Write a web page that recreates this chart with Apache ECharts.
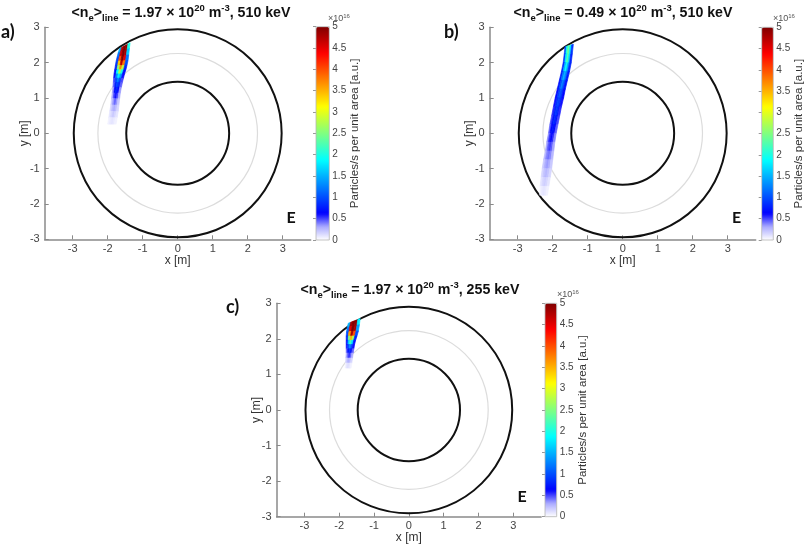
<!DOCTYPE html>
<html>
<head>
<meta charset="utf-8">
<script src="https://cdn.jsdelivr.net/npm/echarts@6/dist/echarts.min.js"></script>
<style>html,body{margin:0;padding:0;background:#fff;}#c{width:809px;height:546px;}</style>
</head>
<body>
<div id="c"></div>
<script>
// ---------- data ----------
const axisTicks = [-3, -2, -1, 0, 1, 2, 3];
const cbTicks = [0, 0.5, 1, 1.5, 2, 2.5, 3, 3.5, 4, 4.5, 5];
const circleRadii = [2.97, 2.28, 1.47];
const circleKinds = ['wall', 'mid', 'core'];

// plume row boundaries [xLeft, yLeft, xRight, yRight] (m)
const boundsA = [
  [-1.66, 2.40, -1.36, 2.56], [-1.70, 2.28, -1.38, 2.40], [-1.73, 2.16, -1.40, 2.22],
  [-1.76, 2.04, -1.42, 2.06], [-1.78, 1.92, -1.45, 1.92], [-1.80, 1.80, -1.48, 1.80],
  [-1.82, 1.68, -1.52, 1.68], [-1.83, 1.56, -1.55, 1.56], [-1.84, 1.44, -1.58, 1.44],
  [-1.85, 1.30, -1.61, 1.30], [-1.87, 1.14, -1.64, 1.14], [-1.89, 0.98, -1.66, 0.98],
  [-1.91, 0.80, -1.68, 0.80], [-1.94, 0.62, -1.70, 0.62], [-1.97, 0.44, -1.73, 0.44],
  [-2.00, 0.26, -1.76, 0.26]
];
// deposition (x1e16), 5 cells across each row
const valuesA = [
  [1.5, 4.7, 5.0, 4.9, 2.0], [1.2, 4.6, 5.0, 4.8, 1.6], [1.0, 4.0, 5.0, 4.5, 1.2],
  [0.9, 3.4, 4.7, 3.8, 1.0], [0.8, 2.6, 3.7, 2.8, 0.8], [0.7, 1.9, 2.7, 2.0, 0.7],
  [0.6, 1.3, 1.8, 1.4, 0.6], [0.5, 0.95, 1.25, 0.95, 0.5], [0.45, 0.8, 0.95, 0.8, 0.45],
  [0.35, 0.65, 0.8, 0.65, 0.35], [0.3, 0.5, 0.6, 0.5, 0.3], [0.2, 0.35, 0.45, 0.35, 0.2],
  [0.15, 0.25, 0.3, 0.25, 0.15], [0.1, 0.15, 0.2, 0.15, 0.1], [0.05, 0.08, 0.1, 0.08, 0.05]
];

const boundsB = [
  [-1.65, 2.45, -1.41, 2.52], [-1.67, 2.25, -1.44, 2.25], [-1.70, 2.00, -1.47, 2.00],
  [-1.75, 1.75, -1.52, 1.75], [-1.81, 1.50, -1.58, 1.50], [-1.87, 1.25, -1.64, 1.25],
  [-1.93, 1.00, -1.69, 1.00], [-1.98, 0.75, -1.75, 0.75], [-2.03, 0.50, -1.80, 0.50],
  [-2.08, 0.25, -1.85, 0.25], [-2.12, 0.00, -1.90, 0.00], [-2.17, -0.25, -1.94, -0.25],
  [-2.21, -0.50, -1.97, -0.50], [-2.26, -0.75, -2.00, -0.75], [-2.30, -1.00, -2.03, -1.00],
  [-2.33, -1.25, -2.07, -1.25], [-2.36, -1.50, -2.11, -1.50], [-2.37, -1.75, -2.15, -1.75]
];
const valuesB = [
  [1.0, 2.0, 2.4, 1.8, 0.9], [0.9, 1.8, 2.3, 1.7, 0.8], [0.8, 1.5, 1.9, 1.4, 0.8],
  [0.75, 1.2, 1.5, 1.2, 0.75], [0.7, 1.0, 1.25, 1.0, 0.7], [0.65, 0.9, 1.05, 0.9, 0.65],
  [0.6, 0.85, 0.95, 0.85, 0.6], [0.55, 0.8, 0.9, 0.8, 0.55], [0.5, 0.72, 0.82, 0.72, 0.5],
  [0.45, 0.65, 0.72, 0.65, 0.45], [0.38, 0.55, 0.62, 0.55, 0.38], [0.32, 0.46, 0.52, 0.46, 0.32],
  [0.26, 0.38, 0.42, 0.38, 0.26], [0.2, 0.3, 0.34, 0.3, 0.2], [0.15, 0.22, 0.26, 0.22, 0.15],
  [0.1, 0.15, 0.18, 0.15, 0.1], [0.05, 0.08, 0.1, 0.08, 0.05]
];

const boundsC = [
  [-1.74, 2.44, -1.40, 2.57], [-1.77, 2.32, -1.42, 2.40], [-1.79, 2.20, -1.45, 2.22],
  [-1.80, 2.08, -1.49, 2.08], [-1.80, 1.96, -1.53, 1.96], [-1.80, 1.84, -1.56, 1.84],
  [-1.80, 1.72, -1.58, 1.72], [-1.80, 1.60, -1.60, 1.60], [-1.81, 1.46, -1.62, 1.46],
  [-1.82, 1.32, -1.64, 1.32], [-1.83, 1.18, -1.66, 1.18]
];
const valuesC = [
  [1.5, 4.8, 5.0, 4.9, 1.8], [1.2, 4.5, 5.0, 4.8, 1.4], [1.0, 3.6, 4.8, 4.0, 1.0],
  [0.8, 2.5, 3.5, 2.7, 0.8], [0.7, 1.6, 2.2, 1.7, 0.7], [0.6, 1.0, 1.3, 1.0, 0.6],
  [0.45, 0.7, 0.85, 0.7, 0.45], [0.3, 0.45, 0.55, 0.45, 0.3], [0.15, 0.25, 0.3, 0.25, 0.15],
  [0.05, 0.1, 0.12, 0.1, 0.05]
];

const titlesNe = ['1.97', '0.49', '1.97'];
const titlesE = ['510', '510', '255'];
const panelLetters = ['a)', 'b)', 'c)'];

// ---------- styles / layout ----------
const FONT = 'Liberation Sans';
const jetColors = ['#ffffff', '#aaaaff', '#0000ff', '#0040ff', '#0080ff', '#00bfff', '#00ffff',
  '#40ffbf', '#80ff80', '#bfff40', '#ffff00', '#ffbf00', '#ff8000', '#ff4000', '#ff0000',
  '#bf0000', '#800000'];
const plotGrids = [
  { left: 44.7, top: 27.3, width: 266, height: 212 },
  { left: 489.7, top: 27.3, width: 266, height: 212 },
  { left: 276.6, top: 303.3, width: 264.5, height: 213.4 }
];
const cbGrids = [
  { left: 316, top: 26.7, width: 13.3, height: 213.3 },
  { left: 761.7, top: 27.3, width: 11.6, height: 212.7 },
  { left: 545, top: 303.3, width: 11.7, height: 213.4 }
];
const titlePos = [[181, 13], [623, 13], [410, 290]];
const letterPos = [[1, 32], [444, 32], [226, 307]];
const ePos = [[291, 218], [736.5, 218], [522, 496.5]];
const x16Pos = [[328, 19], [773, 19], [557, 295]];

const plumeBounds = [boundsA, boundsB, boundsC];
const plumeValues = [valuesA, valuesB, valuesC];

function lerpB(b, f) { return [b[0] + (b[2] - b[0]) * f, b[1] + (b[3] - b[1]) * f]; }

function plumeData(bounds, vals) {
  const out = [];
  for (let r = 0; r < vals.length; r++) {
    const n = vals[r].length;
    for (let c = 0; c < n; c++) {
      const p1 = lerpB(bounds[r], (c + 0.5) / n), p2 = lerpB(bounds[r + 1], (c + 0.5) / n);
      out.push([(p1[0] + p2[0]) / 2, (p1[1] + p2[1]) / 2, vals[r][c], r, c]);
    }
  }
  return out;
}

function makePlumeRender(bounds, ncol) {
  return function (params, api) {
    const r = api.value(3), c = api.value(4);
    const t = bounds[r], b = bounds[r + 1];
    const f0 = c / ncol, f1 = (c + 1) / ncol;
    const pts = [lerpB(t, f0), lerpB(t, f1), lerpB(b, f1), lerpB(b, f0)].map(p => api.coord(p));
    const col = api.visual('color');
    return { type: 'polygon', shape: { points: pts }, style: { fill: col, stroke: col, lineWidth: 0.7 } };
  };
}

function circleRender(params, api) {
  const c = api.coord([api.value(0), api.value(1)]);
  const r = api.size([api.value(2), 0])[0];
  const kind = circleKinds[params.dataIndex];
  const isMid = kind === 'mid';
  return { type: 'circle', shape: { cx: c[0], cy: c[1], r: r },
    style: { fill: 'none', stroke: isMid ? '#dcdcdc' : '#111', lineWidth: isMid ? 1.2 : 2 } };
}

const grids = [], xAxes = [], yAxes = [], series = [], visualMaps = [], graphics = [];

for (let i = 0; i < 3; i++) {
  grids.push(Object.assign({ containLabel: false }, plotGrids[i]));
  xAxes.push({
    type: 'value', gridIndex: i, min: -3.8, max: 3.8,
    axisLine: { onZero: false, lineStyle: { color: '#8a8a8a', width: 1.5 } },
    axisTick: { inside: true, length: 4, lineStyle: { color: '#8a8a8a' }, customValues: axisTicks },
    axisLabel: { customValues: axisTicks, color: '#444', fontSize: 11, fontFamily: FONT, margin: 4 },
    splitLine: { show: false },
    name: 'x [m]', nameLocation: 'middle', nameGap: 15, nameMoveOverlap: false,
    nameTextStyle: { color: '#333', fontSize: 12, fontFamily: FONT }
  });
  yAxes.push({
    type: 'value', gridIndex: i, min: -3, max: 3, interval: 1,
    axisLine: { onZero: false, lineStyle: { color: '#8a8a8a', width: 1.5 } },
    axisTick: { inside: true, length: 4, lineStyle: { color: '#8a8a8a' } },
    axisLabel: { color: '#444', fontSize: 11, fontFamily: FONT, margin: 5 },
    splitLine: { show: false },
    name: 'y [m]', nameLocation: 'middle', nameGap: 14, nameRotate: 90, nameMoveOverlap: false,
    nameTextStyle: { color: '#333', fontSize: 12, fontFamily: FONT }
  });
}
for (let i = 0; i < 3; i++) {
  grids.push(Object.assign({ show: true, borderColor: '#b5b5b5', borderWidth: 0.8, backgroundColor: 'transparent', z: 10 }, cbGrids[i]));
  xAxes.push({ type: 'value', gridIndex: 3 + i, show: false, min: 0, max: 1 });
  yAxes.push({
    type: 'value', gridIndex: 3 + i, min: 0, max: 5, interval: 0.5, position: 'right',
    axisLine: { show: false },
    axisTick: { inside: true, length: 3, lineStyle: { color: '#999' } },
    axisLabel: { color: '#444', fontSize: 10, fontFamily: FONT, margin: 3, customValues: cbTicks },
    splitLine: { show: false },
    name: 'Particles/s per unit area [a.u.]', nameLocation: 'middle', nameGap: 20, nameRotate: 90,
    nameMoveOverlap: false,
    nameTextStyle: { color: '#333', fontSize: 11.5, fontFamily: FONT }
  });
}

for (let i = 0; i < 3; i++) {
  series.push({
    type: 'custom', xAxisIndex: i, yAxisIndex: i, z: 2,
    renderItem: circleRender,
    data: circleRadii.map(r => [0, 0, r]),
    encode: { x: 0, y: 1 }, silent: true
  });
}
for (let i = 0; i < 3; i++) {
  series.push({
    type: 'custom', xAxisIndex: i, yAxisIndex: i, z: 3,
    renderItem: makePlumeRender(plumeBounds[i], plumeValues[i][0].length),
    data: plumeData(plumeBounds[i], plumeValues[i]),
    encode: { x: 0, y: 1 }
  });
  visualMaps.push({
    type: 'continuous', seriesIndex: 3 + i, dimension: 2, min: 0, max: 5,
    left: cbGrids[i].left, top: cbGrids[i].top,
    itemWidth: cbGrids[i].width, itemHeight: cbGrids[i].height,
    calculable: false, padding: 0, orient: 'vertical', hoverLink: false,
    inRange: { color: jetColors }
  });
}

const richTitle = {
  m: { fontSize: 14.2, fontWeight: 'bold', fontFamily: FONT, lineHeight: 20, fill: '#111' },
  sb: { fontSize: 9.5, fontWeight: 'bold', fontFamily: FONT, lineHeight: 11, verticalAlign: 'bottom', fill: '#111' },
  sp: { fontSize: 9.5, fontWeight: 'bold', fontFamily: FONT, lineHeight: 11, verticalAlign: 'top', fill: '#111' }
};
for (let i = 0; i < 3; i++) {
  graphics.push({
    type: 'text', x: titlePos[i][0], y: titlePos[i][1], z: 100,
    style: {
      text: '{m|<n}{sb|e}{m|>}{sb|line}{m| = ' + titlesNe[i] + ' × 10}{sp|20}{m| m}{sp|-3}{m|, ' + titlesE[i] + ' keV}',
      rich: richTitle, align: 'center', verticalAlign: 'middle', textAlign: 'center', textVerticalAlign: 'middle'
    }
  });
  graphics.push({
    type: 'text', x: letterPos[i][0], y: letterPos[i][1], z: 100,
    style: { text: panelLetters[i], font: 'bold 18px Lato', fill: '#111', align: 'left', verticalAlign: 'middle', textAlign: 'left', textVerticalAlign: 'middle' }
  });
  graphics.push({
    type: 'text', x: ePos[i][0], y: ePos[i][1], z: 100,
    style: { text: 'E', font: 'bold 16px Lato', fill: '#111', align: 'center', verticalAlign: 'middle', textAlign: 'center', textVerticalAlign: 'middle' }
  });
  graphics.push({
    type: 'text', x: x16Pos[i][0], y: x16Pos[i][1], z: 100,
    style: {
      text: '{a|×10}{b|16}',
      rich: {
        a: { fontSize: 9, fontFamily: FONT, fill: '#555', lineHeight: 12 },
        b: { fontSize: 6, fontFamily: FONT, fill: '#555', lineHeight: 7, verticalAlign: 'top' }
      },
      align: 'left', verticalAlign: 'middle', textAlign: 'left', textVerticalAlign: 'middle'
    }
  });
}

const chart = echarts.init(document.getElementById('c'), null, { renderer: 'canvas' });
chart.setOption({
  animation: false,
  backgroundColor: '#ffffff',
  grid: grids, xAxis: xAxes, yAxis: yAxes,
  visualMap: visualMaps, series: series, graphic: { elements: graphics }
});
</script>
</body>
</html>
